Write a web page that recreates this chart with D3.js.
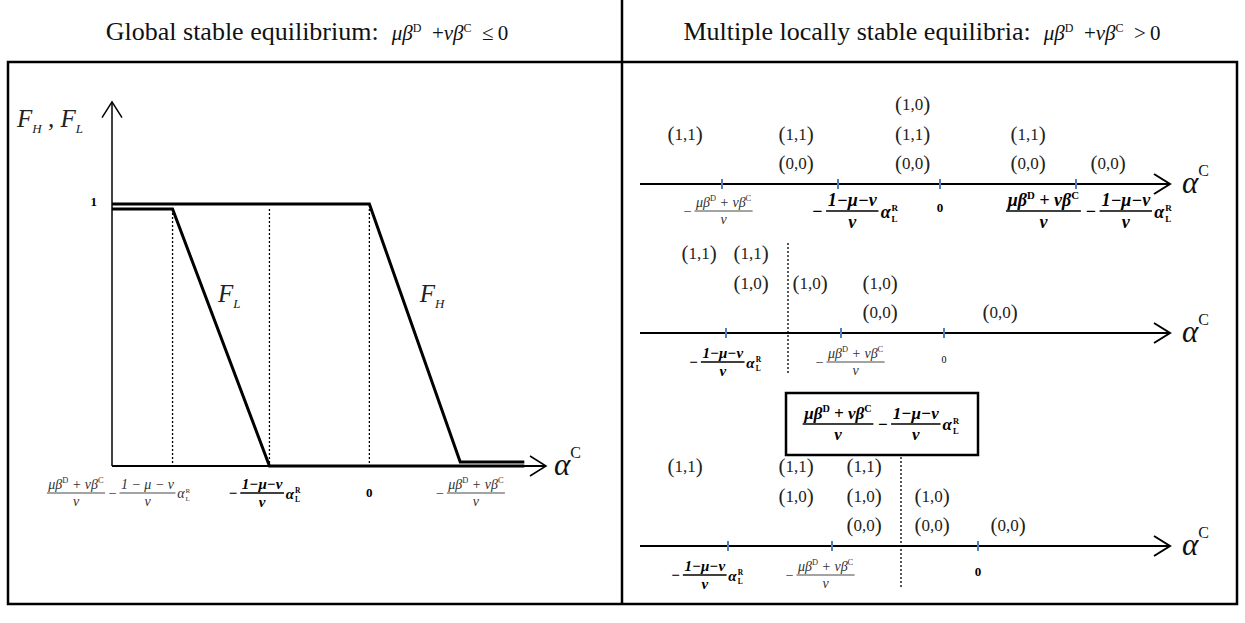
<!DOCTYPE html>
<html lang="en">
<head>
<meta charset="UTF-8">
<title>Equilibria</title>
<script src="https://d3js.org/d3.v7.min.js"></script>
<style>
  body {margin: 0; background: #fff}
  text {font-family: 'Liberation Serif', 'Times New Roman', serif}
  .frame {stroke: #000; stroke-width: 2.5; fill: none}
  .axis {stroke: #000; fill: none}
  .guide {stroke: #000; stroke-width: 1.3; stroke-dasharray: 2 2; fill: none}
  .tickmark {stroke: #4f81bd; stroke-width: 2}
  .curve {stroke: #000; stroke-width: 3; fill: none}
</style>
</head>
<body>
<script>
const width = 1245;
const height = 623;

// ---- left panel: F_H, F_L against alpha^C (abstract units, 0 = the "0" tick)
const guidesL = [-3.9, -1.98, 0];
const curveFH = [[-5.1, 1], [0, 1], [1.8, 0.015], [3.07, 0.015]];
const curveFL = [[-5.1, 0.981], [-3.9, 0.981], [-1.98, 0], [3.07, 0]];
const labelsL = [["CL", -4.95], ["B", -2.08], ["0", 0], ["A", 2.0]];

// ---- right panel: three alpha^C lines
const ticksR = [[-4.36, -2.04, 0, 2.72], [-4.28, -1.98, 0.08], [-4.24, -2.16, 0.76]];
const levelOrder = [["(0,0)", "(1,1)", "(1,0)"], ["(0,0)", "(1,0)", "(1,1)"], ["(0,0)", "(1,0)", "(1,1)"]];
const states1 = [[-5.1, ["(1,1)"]], [-2.88, ["(1,1)", "(0,0)"]], [-0.55, ["(1,0)", "(1,1)", "(0,0)"]],
                 [1.76, ["(1,1)", "(0,0)"]], [3.36, ["(0,0)"]]];
const states2 = [[-4.82, ["(1,1)"]], [-3.78, ["(1,1)", "(1,0)"]], [-2.6, ["(1,0)"]],
                 [-1.2, ["(1,0)", "(0,0)"]], [1.2, ["(0,0)"]]];
const states3 = [[-5.1, ["(1,1)"]], [-2.88, ["(1,1)", "(1,0)"]], [-1.52, ["(1,1)", "(1,0)", "(0,0)"]],
                 [-0.16, ["(1,0)", "(0,0)"]], [1.36, ["(0,0)"]]];
const labelsR = [[["A", -4.44], ["B", -1.7], ["0", 0], ["C", 3.0]],
                 [["B", -4.3], ["A", -1.8], ["0s", 0.08]],
                 [["B", -4.66], ["A", -2.4], ["0", 0.76]]];
const guidesR = [null, -3.04, -0.78];
const boxLabelX = -1.16;

// ---- geometry
const svg = d3.select("body").append("svg").attr("width", width).attr("height", height);

const xL = d3.scaleLinear().domain([-5.1, 3.5]).range([112, 546]);
const yL = d3.scaleLinear().domain([0, 1]).range([466, 204]);
const xR = d3.scaleLinear().domain([-6, 4.6]).range([640, 1170]);
const rowAxisY = [184, 333, 546];
const levelStep = 29.5;

// frame
svg.append("path").attr("class", "frame")
  .attr("d", "M8,62 H1237 V604 H8 Z M622,0 V604");

// headers
function header(cx, words, rel) {
  const t = svg.append("text").attr("x", cx).attr("y", 40).attr("text-anchor", "middle")
    .style("font-size", "26px").attr("fill", "#111");
  const ms = "21px", sp = "\u2002";
  t.append("tspan").text(words + sp);
  t.append("tspan").style("font-style", "italic").style("font-size", ms).text("μβ");
  t.append("tspan").style("font-size", "12px").attr("dy", -8).text("D");
  t.append("tspan").style("font-size", ms).attr("dy", 8).text(sp + "+");
  t.append("tspan").style("font-style", "italic").style("font-size", ms).text("νβ");
  t.append("tspan").style("font-size", "12px").attr("dy", -8).text("C");
  t.append("tspan").style("font-size", ms).attr("dy", 8).text(sp + rel + "\u2009" + "0");
}
header(307, "Global stable equilibrium:", "≤");
header(922, "Multiple locally stable equilibria:", ">");

// expression tokens
const numBeta = [["μβ"], ["D", "sup"], [" + νβ"], ["C", "sup"]];
const numOne = [["1 − μ − ν"]];
const numOneB = [["1−μ−ν"]];
const denNu = [["ν"]];
const exprs = {
  A: [{t: "op", s: "−"}, {t: "frac", num: numBeta, den: denNu}],
  B: [{t: "op", s: "−"}, {t: "frac", num: numOneB, den: denNu}, {t: "alpha"}],
  C: [{t: "frac", num: numBeta, den: denNu}, {t: "op", s: "−"}, {t: "frac", num: numOneB, den: denNu}, {t: "alpha"}],
  CL: [{t: "frac", num: numBeta, den: denNu}, {t: "op", s: "−"}, {t: "frac", num: numOne, den: denNu}, {t: "alpha"}]
};
const lightL = {size: 14, weight: "normal", fill: "#333"};
const boldS = {size: 15, weight: "bold", fill: "#000"};
const boldM = {size: 18, weight: "bold", fill: "#000"};
const lightR = {size: 14, weight: "normal", fill: "#333"};

function addSegs(sel, segs, fs) {
  let up = false;
  segs.forEach(([s, k]) => {
    const ts = sel.append("tspan").text(s);
    if (k === "sup") {
      ts.style("font-size", (fs * 0.6) + "px").style("font-style", "normal").attr("dy", up ? 0 : -fs * 0.4);
      up = true;
    } else {
      if (up) ts.attr("dy", fs * 0.4);
      up = false;
    }
  });
}

function drawExpr(parent, kind, cx, cy, st) {
  const fs = st.size;
  const g = parent.append("g")
    .style("font-size", fs + "px").style("font-style", "italic")
    .style("font-weight", st.weight).attr("fill", st.fill);
  let x = 0;
  exprs[kind].forEach(tk => {
    if (tk.t === "op") {
      const t = g.append("text").attr("x", x + fs * 0.15).attr("y", fs * 0.33)
        .style("font-style", "normal").text(tk.s);
      x += t.node().getComputedTextLength() + fs * 0.35;
    } else if (tk.t === "frac") {
      const n = g.append("text").attr("y", -fs * 0.28).attr("text-anchor", "middle");
      addSegs(n, tk.num, fs);
      const d = g.append("text").attr("y", fs * 0.95).attr("text-anchor", "middle");
      addSegs(d, tk.den, fs);
      const w = Math.max(n.node().getComputedTextLength(), d.node().getComputedTextLength()) + fs * 0.2;
      n.attr("x", x + w / 2);
      d.attr("x", x + w / 2);
      g.append("line").attr("x1", x).attr("x2", x + w).attr("y1", 0).attr("y2", 0)
        .attr("stroke", st.fill).attr("stroke-width", st.weight === "bold" ? 1.6 : 0.9);
      x += w + fs * 0.12;
    } else {
      const a = g.append("text").attr("x", x).attr("y", fs * 0.38).text("α");
      const wa = a.node().getComputedTextLength();
      g.append("text").attr("x", x + wa + 1).attr("y", fs * 0.0)
        .style("font-size", (fs * 0.5) + "px").style("font-style", "normal").text("R");
      g.append("text").attr("x", x + wa + 1).attr("y", fs * 0.6)
        .style("font-size", (fs * 0.5) + "px").style("font-style", "normal").text("L");
      x += wa + fs * 0.55;
    }
  });
  g.attr("transform", `translate(${cx - x / 2},${cy})`);
}

function zeroLabel(parent, x, y, small) {
  parent.append("text").attr("x", x).attr("y", y + 4).attr("text-anchor", "middle")
    .style("font-size", small ? "10px" : "13px").style("font-weight", small ? "normal" : "bold")
    .text("0");
}

function alphaC(parent, x, y) {
  const t = parent.append("text").attr("x", x).attr("y", y + 9).attr("fill", "#111");
  t.append("tspan").style("font-size", "31px").style("font-style", "italic").text("α");
  t.append("tspan").style("font-size", "16px").attr("dy", -17).text("C");
}

function arrowHead(parent, x, y, w) {
  parent.append("path").attr("class", "axis").attr("stroke-width", w)
    .attr("d", `M${x - 16},${y - 10} L${x},${y} L${x - 16},${y + 10}`);
}

function fLabel(parent, x, y, subs) {
  const t = parent.append("text").attr("x", x).attr("y", y).attr("fill", "#222");
  subs.forEach((s, i) => {
    t.append("tspan").style("font-size", "25px").style("font-style", "italic")
      .attr("dy", i ? -6 : 0).text((i ? " , " : "") + "F");
    t.append("tspan").style("font-size", "13px").style("font-style", "italic").attr("dy", 6).text(s);
  });
}

function pairLabel(sel) {
  sel.append("tspan").style("font-size", "21px").text("(");
  sel.append("tspan").style("font-size", "17px").attr("dy", -1).text(d => d.s.slice(1, -1));
  sel.append("tspan").style("font-size", "21px").attr("dy", 1).text(")");
}

// ---- left panel
const gl = svg.append("g");
gl.selectAll("line.guide").data(guidesL).join("line").attr("class", "guide")
  .attr("x1", d => xL(d)).attr("x2", d => xL(d))
  .attr("y1", yL(0.981)).attr("y2", yL(0));
gl.append("line").attr("class", "axis").attr("stroke-width", 1.5)
  .attr("x1", xL(-5.1)).attr("x2", xL(-5.1)).attr("y1", yL(0)).attr("y2", yL(1.39));
gl.append("path").attr("class", "axis").attr("stroke-width", 1.5)
  .attr("d", `M${xL(-5.1) - 10},${yL(1.33)} L${xL(-5.1)},${yL(1.39)} L${xL(-5.1) + 10},${yL(1.33)}`);
gl.append("line").attr("class", "axis").attr("stroke-width", 1.8)
  .attr("x1", xL(-5.1)).attr("x2", xL(3.5)).attr("y1", yL(0)).attr("y2", yL(0));
arrowHead(gl, xL(3.5), yL(0), 1.5);
alphaC(gl, xL(3.5) + 8, yL(0));

const lineL = d3.line().x(d => xL(d[0])).y(d => yL(d[1]));
gl.append("path").attr("class", "curve").attr("d", lineL(curveFH));
gl.append("path").attr("class", "curve").attr("d", lineL(curveFL));

gl.append("text").attr("x", xL(-5.1) - 15).attr("y", yL(1) + 2).attr("text-anchor", "end")
  .style("font-size", "13px").style("font-weight", "bold").text("1");
fLabel(gl, 17, 127, ["H", "L"]);
fLabel(gl, xL(-3.0), 302, ["L"]);
fLabel(gl, xL(1.0), 302, ["H"]);

labelsL.forEach(([k, v]) => {
  if (k === "0") zeroLabel(gl, xL(v), 493);
  else drawExpr(gl, k, xL(v), 493, k === "B" ? boldS : lightL);
});

// ---- right panel
const gr = svg.append("g");
const statesR = [states1, states2, states3];
rowAxisY.forEach((ay, r) => {
  const g = gr.append("g");
  if (guidesR[r] !== null) {
    const top = r === 1 ? ay - 90 : 457;
    g.append("line").attr("class", "guide").attr("stroke-width", 1.8)
      .attr("x1", xR(guidesR[r])).attr("x2", xR(guidesR[r]))
      .attr("y1", top).attr("y2", ay + 42);
  }
  g.append("line").attr("class", "axis").attr("stroke-width", 2)
    .attr("x1", xR(-6)).attr("x2", xR(4.6)).attr("y1", ay).attr("y2", ay);
  arrowHead(g, xR(4.6), ay, 2);
  alphaC(g, xR(4.6) + 12, ay);
  g.selectAll("line.tickmark").data(ticksR[r]).join("line").attr("class", "tickmark")
    .attr("x1", d => xR(d)).attr("x2", d => xR(d)).attr("y1", ay - 5).attr("y2", ay + 5);
  // equilibrium pairs stacked by level
  const cells = statesR[r].flatMap(([x, list]) => list.map(s => ({x, s, lvl: levelOrder[r].indexOf(s)})));
  g.selectAll("text.pair").data(cells).join("text").attr("class", "pair")
    .attr("x", d => xR(d.x)).attr("y", d => ay - 14 - d.lvl * levelStep)
    .attr("text-anchor", "middle").attr("fill", "#222")
    .call(pairLabel);
  labelsR[r].forEach(([k, v]) => {
    const ly = ay + (r === 0 ? 27 : 29);
    if (k === "0") zeroLabel(g, xR(v), ly - 3);
    else if (k === "0s") zeroLabel(g, xR(v), ly - 3, true);
    else drawExpr(g, k, xR(v), ly, k === "A" ? lightR : (r === 0 ? boldM : boldS));
  });
});

// boxed threshold label
const bx = xR(boxLabelX);
gr.append("rect").attr("x", bx - 96).attr("y", 393).attr("width", 192).attr("height", 62)
  .attr("fill", "#fff").attr("stroke", "#000").attr("stroke-width", 2.5);
drawExpr(gr, "C", bx, 424, {size: 17, weight: "bold", fill: "#000"});
</script>
</body>
</html>
